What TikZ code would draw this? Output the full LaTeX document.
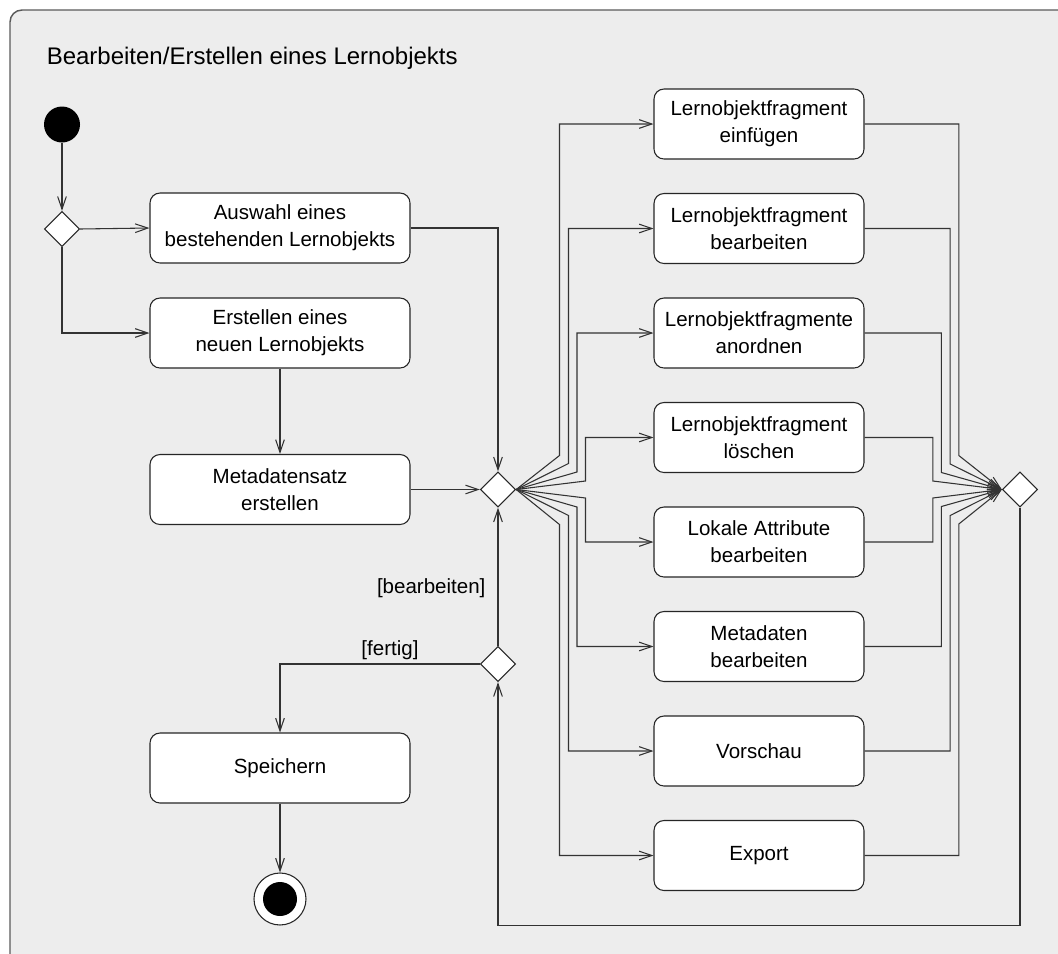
\documentclass[tikz,border=0pt]{standalone}
\usepackage{fontspec}
\setmainfont{Liberation Sans}
\usetikzlibrary{shapes.geometric,arrows.meta,calc}

\definecolor{panel}{HTML}{EDEDED}
\definecolor{panelline}{HTML}{5A5A5A}

\tikzset{
  act/.style={draw=black!85, fill=white, rounded corners=7.5pt, line width=0.8pt,
    minimum width=195pt, minimum height=52.5pt, align=center, inner sep=0pt,
    font=\fontsize{15.4}{20.3}\selectfont},
  wact/.style={act, minimum width=157.5pt},
  decision/.style={diamond, draw=black!85, fill=white, line width=0.8pt,
    minimum width=26.5pt, minimum height=26.5pt, inner sep=0pt},
  flow/.style={draw=black!80, line width=0.8pt,
    -{Straight Barb[length=9.5pt,width=6.5pt]}},
  guard/.style={font=\fontsize{15.4}{18}\selectfont, inner sep=0pt},
}

\begin{document}
\begin{tikzpicture}[x=0.75pt, y=-0.75pt]
\useasboundingbox (0,0) rectangle (1058,954);

% activity frame
\begin{scope}
  \clip (0,0) rectangle (1058,954);
  \draw[panelline, fill=panel, line width=1.1pt, rounded corners=9pt]
    (10,10) rectangle (1080,966);
\end{scope}
\node[anchor=base west, inner sep=0pt, font=\fontsize{18}{22}\selectfont]
  (title) at (46.5,64.3) {Bearbeiten/Erstellen eines Lernobjekts};

% left column
\node[circle, fill=black, minimum size=27pt, inner sep=0pt] (start) at (62,124.5) {};
\node[decision] (d1) at (62,229) {};
\node[act] (auswahl) at (280,228) {Auswahl eines\\bestehenden Lernobjekts};
\node[act] (neu) at (280,333) {Erstellen eines\\neuen Lernobjekts};
\node[act] (meta) at (280,489.5) {Metadatensatz\\erstellen};
\node[act] (save) at (280,768) {Speichern};
\node[circle, draw=black!85, fill=white, line width=0.8pt, minimum size=39pt, inner sep=0pt] (final) at (280,899) {};
\node[circle, fill=black, minimum size=25.5pt, inner sep=0pt] (finaldot) at (final.center) {};

% central decisions
\node[decision] (d2) at (498,489.5) {};
\node[decision] (d3) at (498,664) {};
\node[decision] (d4) at (1020,489.5) {};

% right column
\node[wact] (r1) at (759,124)   {Lernobjektfragment\\einfügen};
\node[wact] (r2) at (759,228.5) {Lernobjektfragment\\bearbeiten};
\node[wact] (r3) at (759,333)   {Lernobjektfragmente\\anordnen};
\node[wact] (r4) at (759,437.5) {Lernobjektfragment\\löschen};
\node[wact] (r5) at (759,542)   {Lokale Attribute\\bearbeiten};
\node[wact] (r6) at (759,646.5) {Metadaten\\bearbeiten};
\node[wact] (r7) at (759,751)   {Vorschau};
\node[wact] (r8) at (759,855.5) {Export};

% flows on the left
\draw[flow] (start) -- (d1);
\draw[flow] (d1.east) -- (auswahl.west);
\draw[flow] (d1.south) |- (neu.west);
\draw[flow] (neu) -- (meta);
\draw[flow] (meta.east) -- (d2.west);
\draw[flow] (auswahl.east) -| (d2.north);
\draw[flow] (d3.north) -- node[guard, anchor=east, pos=0.42, xshift=-9pt] {[bearbeiten]} (d2.south);
\draw[flow] (d3.west) -| (save.north);
\node[guard] (lfertig) at (390,650) {[fertig]};
\draw[flow] (save) -- (final);

% fork out of the central decision
\draw[flow] (d2.east) -- ([shift={(43.3,-34)}]d2.east) |- (r1.west);
\draw[flow] (d2.east) -- ([shift={(52.3,-26)}]d2.east) |- (r2.west);
\draw[flow] (d2.east) -- ([shift={(60.8,-17.5)}]d2.east) |- (r3.west);
\draw[flow] (d2.east) -- ([shift={(69.3,-8.5)}]d2.east) |- (r4.west);
\draw[flow] (d2.east) -- ([shift={(69.3,8.5)}]d2.east) |- (r5.west);
\draw[flow] (d2.east) -- ([shift={(60.8,17.5)}]d2.east) |- (r6.west);
\draw[flow] (d2.east) -- ([shift={(52.3,26)}]d2.east) |- (r7.west);
\draw[flow] (d2.east) -- ([shift={(43.3,35)}]d2.east) |- (r8.west);

% merge into the right decision
\draw[flow] (r1.east) -| ([shift={(-43,-34)}]d4.west) -- (d4.west);
\draw[flow] (r2.east) -| ([shift={(-51.6,-25.5)}]d4.west) -- (d4.west);
\draw[flow] (r3.east) -| ([shift={(-60.4,-17)}]d4.west) -- (d4.west);
\draw[flow] (r4.east) -| ([shift={(-69,-8.5)}]d4.west) -- (d4.west);
\draw[flow] (r5.east) -| ([shift={(-69,8.5)}]d4.west) -- (d4.west);
\draw[flow] (r6.east) -| ([shift={(-60.4,17)}]d4.west) -- (d4.west);
\draw[flow] (r7.east) -| ([shift={(-51.6,26)}]d4.west) -- (d4.west);
\draw[flow] (r8.east) -| ([shift={(-43,34.5)}]d4.west) -- (d4.west);

% loop back to the lower decision
\draw[flow] (d4.south) -- ([yshift=-313.5pt]d4.south) -| (d3.south);
\end{tikzpicture}
\end{document}
